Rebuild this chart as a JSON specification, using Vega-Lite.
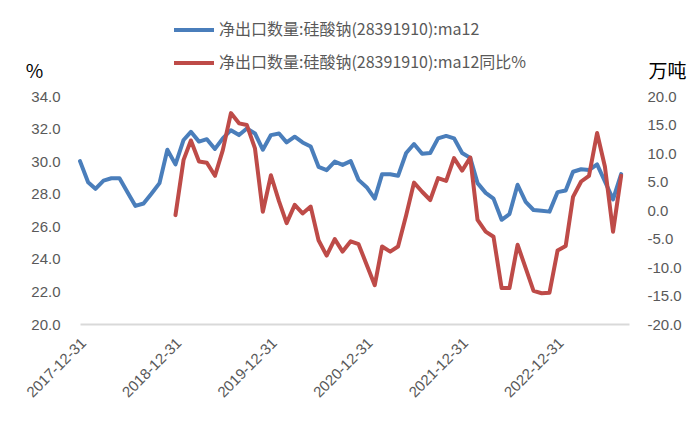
{
  "$schema": "https://vega.github.io/schema/vega-lite/v6.json",
  "width": 549,
  "height": 228,
  "autosize": "none",
  "padding": {"left": 80, "top": 96, "right": 71, "bottom": 97},
  "background": "white",
  "data": {
    "values": [
      {"date": "2017-12-31", "ma12": 30.0, "yoy": null},
      {"date": "2018-01-31", "ma12": 28.7, "yoy": null},
      {"date": "2018-02-28", "ma12": 28.3, "yoy": null},
      {"date": "2018-03-31", "ma12": 28.8, "yoy": null},
      {"date": "2018-04-30", "ma12": 28.95, "yoy": null},
      {"date": "2018-05-31", "ma12": 28.95, "yoy": null},
      {"date": "2018-06-30", "ma12": 28.1, "yoy": null},
      {"date": "2018-07-31", "ma12": 27.25, "yoy": null},
      {"date": "2018-08-31", "ma12": 27.4, "yoy": null},
      {"date": "2018-09-30", "ma12": 28.0, "yoy": null},
      {"date": "2018-10-31", "ma12": 28.65, "yoy": null},
      {"date": "2018-11-30", "ma12": 30.7, "yoy": null},
      {"date": "2018-12-31", "ma12": 29.8, "yoy": -0.9},
      {"date": "2019-01-31", "ma12": 31.3, "yoy": 8.8},
      {"date": "2019-02-28", "ma12": 31.8, "yoy": 12.2},
      {"date": "2019-03-31", "ma12": 31.2, "yoy": 8.5},
      {"date": "2019-04-30", "ma12": 31.35, "yoy": 8.3},
      {"date": "2019-05-31", "ma12": 30.75, "yoy": 6.0},
      {"date": "2019-06-30", "ma12": 31.4, "yoy": 10.5},
      {"date": "2019-07-31", "ma12": 31.9, "yoy": 17.0},
      {"date": "2019-08-31", "ma12": 31.6, "yoy": 15.2},
      {"date": "2019-09-30", "ma12": 32.0, "yoy": 14.9},
      {"date": "2019-10-31", "ma12": 31.7, "yoy": 10.8},
      {"date": "2019-11-30", "ma12": 30.7, "yoy": -0.3},
      {"date": "2019-12-31", "ma12": 31.6, "yoy": 6.1},
      {"date": "2020-01-31", "ma12": 31.7, "yoy": 1.5},
      {"date": "2020-02-29", "ma12": 31.15, "yoy": -2.3},
      {"date": "2020-03-31", "ma12": 31.5, "yoy": 0.9},
      {"date": "2020-04-30", "ma12": 31.15, "yoy": -0.6},
      {"date": "2020-05-31", "ma12": 30.9, "yoy": 0.6},
      {"date": "2020-06-30", "ma12": 29.65, "yoy": -5.3},
      {"date": "2020-07-31", "ma12": 29.45, "yoy": -8.0},
      {"date": "2020-08-31", "ma12": 29.97, "yoy": -5.1},
      {"date": "2020-09-30", "ma12": 29.77, "yoy": -7.3},
      {"date": "2020-10-31", "ma12": 30.0, "yoy": -5.5},
      {"date": "2020-11-30", "ma12": 28.85, "yoy": -6.0},
      {"date": "2020-12-31", "ma12": 28.4, "yoy": -9.6},
      {"date": "2021-01-31", "ma12": 27.7, "yoy": -13.2},
      {"date": "2021-02-28", "ma12": 29.2, "yoy": -6.4},
      {"date": "2021-03-31", "ma12": 29.2, "yoy": -7.3},
      {"date": "2021-04-30", "ma12": 29.1, "yoy": -6.4},
      {"date": "2021-05-31", "ma12": 30.5, "yoy": -0.9},
      {"date": "2021-06-30", "ma12": 31.05, "yoy": 4.8},
      {"date": "2021-07-31", "ma12": 30.45, "yoy": 3.2},
      {"date": "2021-08-31", "ma12": 30.5, "yoy": 1.75},
      {"date": "2021-09-30", "ma12": 31.4, "yoy": 5.6},
      {"date": "2021-10-31", "ma12": 31.55, "yoy": 5.1},
      {"date": "2021-11-30", "ma12": 31.4, "yoy": 9.1},
      {"date": "2021-12-31", "ma12": 30.5, "yoy": 6.9},
      {"date": "2022-01-31", "ma12": 30.2, "yoy": 9.2},
      {"date": "2022-02-28", "ma12": 28.65, "yoy": -1.75},
      {"date": "2022-03-31", "ma12": 28.05, "yoy": -3.8},
      {"date": "2022-04-30", "ma12": 27.7, "yoy": -4.7},
      {"date": "2022-05-31", "ma12": 26.4, "yoy": -13.7},
      {"date": "2022-06-30", "ma12": 26.75, "yoy": -13.7},
      {"date": "2022-07-31", "ma12": 28.55, "yoy": -6.1},
      {"date": "2022-08-31", "ma12": 27.5, "yoy": -10.2},
      {"date": "2022-09-30", "ma12": 27.0, "yoy": -14.2},
      {"date": "2022-10-31", "ma12": 26.95, "yoy": -14.6},
      {"date": "2022-11-30", "ma12": 26.9, "yoy": -14.5},
      {"date": "2022-12-31", "ma12": 28.1, "yoy": -7.1},
      {"date": "2023-01-31", "ma12": 28.2, "yoy": -6.3},
      {"date": "2023-02-28", "ma12": 29.35, "yoy": 2.3},
      {"date": "2023-03-31", "ma12": 29.5, "yoy": 5.0},
      {"date": "2023-04-30", "ma12": 29.45, "yoy": 6.0},
      {"date": "2023-05-31", "ma12": 29.8, "yoy": 13.5},
      {"date": "2023-06-30", "ma12": 28.75, "yoy": 7.6},
      {"date": "2023-07-31", "ma12": 27.65, "yoy": -3.8},
      {"date": "2023-08-31", "ma12": 29.2, "yoy": 6.0}
    ]
  },
  "encoding": {
    "x": {
      "field": "date",
      "type": "temporal",
      "scale": {
        "type": "utc",
        "domain": [
          {"year": 2017, "month": 12, "date": 31, "utc": true},
          {"year": 2023, "month": 9, "date": 30, "utc": true}
        ]
      },
      "axis": {
        "title": null,
        "values": [
          {"year": 2017, "month": 12, "date": 31, "utc": true},
          {"year": 2018, "month": 12, "date": 31, "utc": true},
          {"year": 2019, "month": 12, "date": 31, "utc": true},
          {"year": 2020, "month": 12, "date": 31, "utc": true},
          {"year": 2021, "month": 12, "date": 31, "utc": true},
          {"year": 2022, "month": 12, "date": 31, "utc": true}
        ],
        "format": "%Y-%m-%d",
        "labelAngle": -45,
        "labelAlign": "right",
        "labelBaseline": "middle",
        "labelPadding": 16,
        "labelOffset": 3,
        "ticks": false,
        "grid": false,
        "domainColor": "#d9d9d9",
        "domainWidth": 2
      }
    }
  },
  "layer": [
    {
      "mark": {"type": "line", "strokeWidth": 4, "strokeJoin": "round", "strokeCap": "round"},
      "encoding": {
        "y": {
          "field": "ma12",
          "type": "quantitative",
          "scale": {"domain": [20, 34], "nice": false, "zero": false},
          "axis": {
            "orient": "left",
            "values": [20, 22, 24, 26, 28, 30, 32, 34],
            "labelExpr": "replace(format(datum.value, '.1f'), '\u2212', '-')",
            "title": "%",
            "titleAngle": 0,
            "titleX": -46,
            "titleY": -25,
            "titleAlign": "center",
            "titleBaseline": "middle",
            "labelPadding": 20
          }
        },
        "color": {"datum": "净出口数量:硅酸钠(28391910):ma12"}
      }
    },
    {
      "mark": {"type": "line", "strokeWidth": 4, "strokeJoin": "round", "strokeCap": "round"},
      "encoding": {
        "y": {
          "field": "yoy",
          "type": "quantitative",
          "scale": {"domain": [-20, 20], "nice": false, "zero": false},
          "axis": {
            "orient": "right",
            "values": [-20, -15, -10, -5, 0, 5, 10, 15, 20],
            "labelExpr": "replace(format(datum.value, '.1f'), '\u2212', '-')",
            "title": "万吨",
            "titleAngle": 0,
            "titleX": 38,
            "titleY": -25,
            "titleAlign": "center",
            "titleBaseline": "middle",
            "labelPadding": 18
          }
        },
        "color": {"datum": "净出口数量:硅酸钠(28391910):ma12同比%"}
      }
    }
  ],
  "resolve": {"scale": {"y": "independent"}, "axis": {"y": "independent"}},
  "config": {
    "view": {"stroke": null},
    "axis": {
      "labelFont": "Liberation Sans",
      "labelFontSize": 15,
      "labelColor": "#595959",
      "titleFont": "Noto Sans CJK SC",
      "titleFontSize": 19,
      "titleFontWeight": "normal",
      "titleColor": "#000000"
    },
    "axisY": {"ticks": false, "grid": false, "domain": false},
    "range": {"category": ["#4A7EBB", "#BE4B48"]},
    "legend": {
      "orient": "none",
      "legendX": 92,
      "legendY": -88,
      "direction": "vertical",
      "title": null,
      "symbolType": "stroke",
      "symbolSize": 1600,
      "symbolStrokeWidth": 4,
      "labelFont": "Noto Sans CJK SC",
      "labelFontSize": 16,
      "labelColor": "#595959",
      "labelOffset": 3,
      "labelLimit": 400,
      "rowPadding": 3
    }
  }
}
